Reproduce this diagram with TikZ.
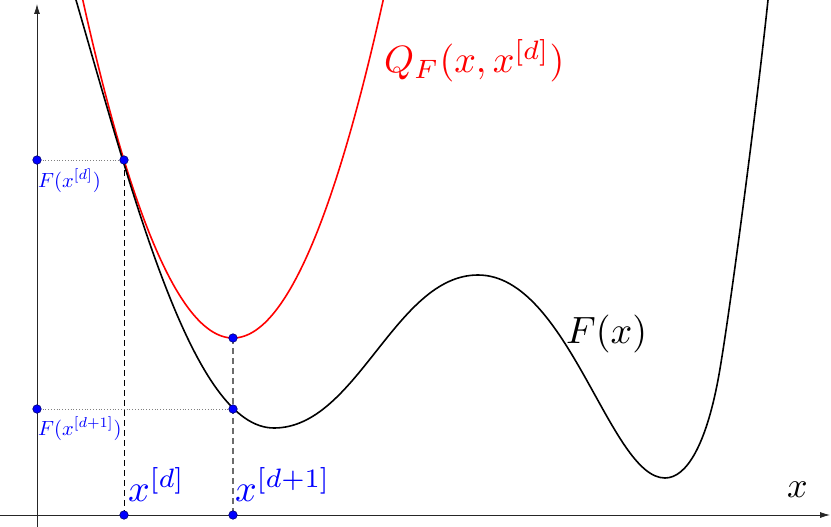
\documentclass[tikz,border=0pt]{standalone}
\usetikzlibrary{arrows.meta}
\newcommand{\bigtxt}[1]{\scalebox{3.8}{#1}}
\newcommand{\smalltxt}[1]{\scalebox{2.05}{#1}}
\begin{document}
\begin{tikzpicture}[x=1pt,y=-1pt,
  dotpt/.style={circle,fill=blue,draw=blue!45!black,line width=0.6pt,inner sep=0pt,minimum size=8.5pt},
  axisline/.style={draw=black!85,line width=0.8pt},
  curveF/.style={black,line width=1.6pt},
  curveQ/.style={red,line width=1.6pt},
  guide/.style={dash pattern=on 6pt off 4pt,line width=0.8pt},
  hguide/.style={gray,dotted,line width=0.8pt},
  biglab/.style={anchor=base west,inner sep=0pt},
  smalllab/.style={anchor=base west,inner sep=0pt,blue}]
\useasboundingbox (0,0) rectangle (831,527);
% axes
\coordinate (xl) at (0,515);
\coordinate (xr) at (830,515);
\coordinate (yb) at (37,527);
\coordinate (yt) at (37,4);
\draw[axisline,-{Latex[length=10pt,width=6pt]}] (xl) -- (xr);
\draw[axisline,-{Latex[length=10pt,width=6pt]}] (yb) -- (yt);
% curves
\begin{scope}
\clip (0,0) rectangle (831,527);
\draw[curveQ] plot[domain=82:384,samples=120] (\x,{338-(0.12239*(\x-233))^2});
\draw[curveF] (70,-20.7) -- (76,0)
  .. controls (136,207) and (194,428) .. (274,428)
  .. controls (357,428) and (395,275) .. (478,275)
  .. controls (568,275) and (610,478) .. (665,478)
  .. controls (687,478) and (706,443.6) .. (718,380)
  .. controls (728,327) and (756,114) .. (768,0)
  -- (770.1,-20);
\end{scope}
% coordinates of the marked points
\coordinate (a1) at (37,160);
\coordinate (p1) at (124,160);
\coordinate (q2) at (233,338);
\coordinate (a2) at (37,409);
\coordinate (p2) at (233,409);
\coordinate (b1) at (124,515);
\coordinate (b2) at (233,515);
% guides
\draw[guide,black] (p1) -- (b1);
\draw[guide,gray!85!black,line width=1.2pt] (q2) -- (b2);
\draw[hguide] (a1) -- (p1);
\draw[hguide] (a2) -- (p2);
% points
\node[dotpt] (na1) at (a1) {};
\node[dotpt] (np1) at (p1) {};
\node[dotpt] (nq2) at (q2) {};
\node[dotpt] (na2) at (a2) {};
\node[dotpt] (np2) at (p2) {};
\node[dotpt] (nb1) at (b1) {};
\node[dotpt] (nb2) at (b2) {};
% labels
\node[smalllab] (lf1) at (38,187) {\smalltxt{$F(x^{[d]})$}};
\node[smalllab] (lf2) at (38,435) {\smalltxt{$F(x^{[d+1]})$}};
\node[biglab,blue] (lx1) at (128,501) {\bigtxt{$x^{[d]}$}};
\node[biglab,blue] (lx2) at (235,501) {\bigtxt{$x^{[d+1]}$}};
\node[biglab,red] (lq) at (384,73) {\bigtxt{$Q_F(x,x^{[d]})$}};
\node[biglab] (lF) at (566,343) {\bigtxt{$F(x)$}};
\node[biglab] (lxa) at (787,497) {\scalebox{3.6}{$x$}};
\end{tikzpicture}
\end{document}
